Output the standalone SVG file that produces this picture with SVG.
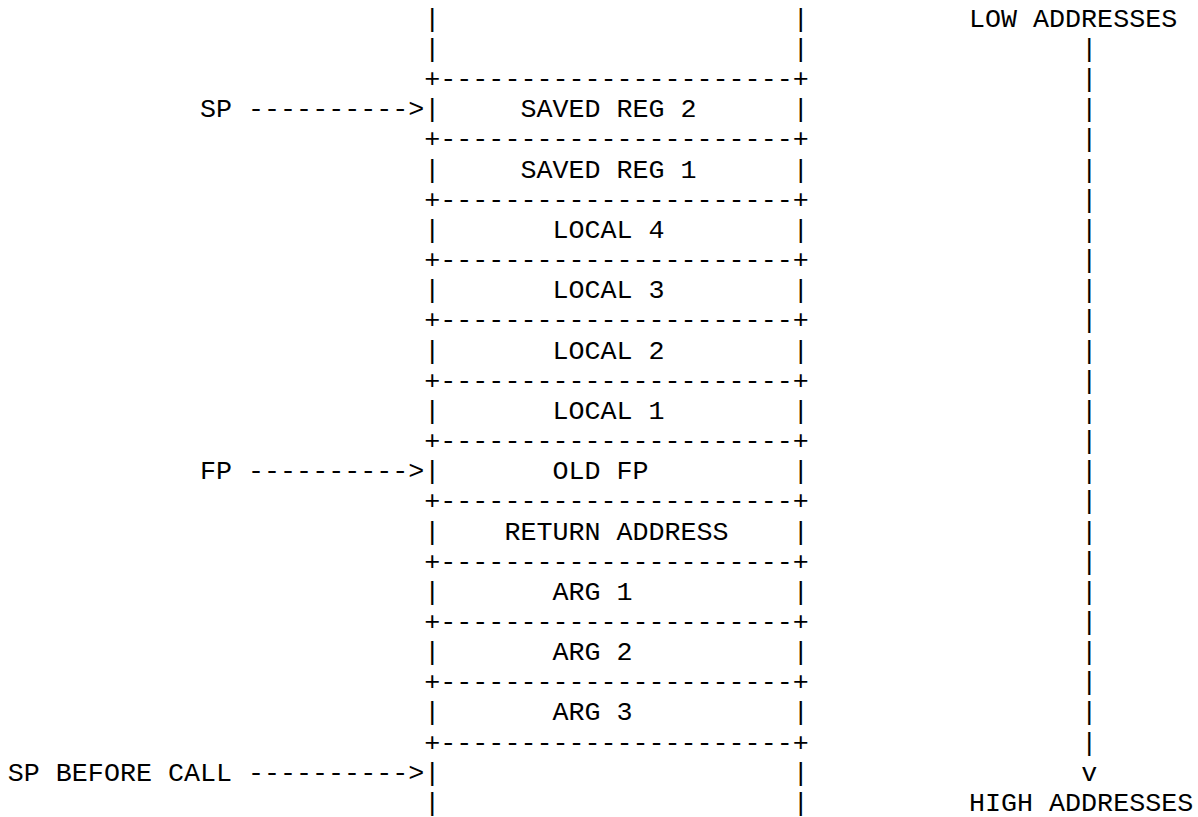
<svg xmlns="http://www.w3.org/2000/svg" width="1198" height="817" viewBox="0 0 1198 817">
<style>
text { font-family: "Liberation Mono", "Courier New", monospace; font-size: 26.7px; fill: #000000; white-space: pre; }
</style>
<rect width="1198" height="817" fill="#ffffff"/>
<g id="stack-edges">
<text x="424.32" y="26.8">|</text><text x="792.78" y="26.8">|</text>
<text x="424.32" y="56.96">|</text><text x="792.78" y="56.96">|</text>
<text x="424.32" y="780.8">|</text><text x="792.78" y="780.8">|</text>
<text x="424.32" y="810.96">|</text><text x="792.78" y="810.96">|</text>
</g>
<g id="separators">
<text x="424.32" y="87.12">+----------------------+</text>
<text x="424.32" y="147.44">+----------------------+</text>
<text x="424.32" y="207.76">+----------------------+</text>
<text x="424.32" y="268.08">+----------------------+</text>
<text x="424.32" y="328.4">+----------------------+</text>
<text x="424.32" y="388.72">+----------------------+</text>
<text x="424.32" y="449.04">+----------------------+</text>
<text x="424.32" y="509.36">+----------------------+</text>
<text x="424.32" y="569.68">+----------------------+</text>
<text x="424.32" y="630">+----------------------+</text>
<text x="424.32" y="690.32">+----------------------+</text>
<text x="424.32" y="750.64">+----------------------+</text>
</g>
<g id="slot-saved-reg-2"><text x="424.32" y="117.28">|</text><text x="520.44" y="117.28">SAVED REG 2</text><text x="792.78" y="117.28">|</text></g>
<g id="slot-saved-reg-1"><text x="424.32" y="177.6">|</text><text x="520.44" y="177.6">SAVED REG 1</text><text x="792.78" y="177.6">|</text></g>
<g id="slot-local-4"><text x="424.32" y="237.92">|</text><text x="552.48" y="237.92">LOCAL 4</text><text x="792.78" y="237.92">|</text></g>
<g id="slot-local-3"><text x="424.32" y="298.24">|</text><text x="552.48" y="298.24">LOCAL 3</text><text x="792.78" y="298.24">|</text></g>
<g id="slot-local-2"><text x="424.32" y="358.56">|</text><text x="552.48" y="358.56">LOCAL 2</text><text x="792.78" y="358.56">|</text></g>
<g id="slot-local-1"><text x="424.32" y="418.88">|</text><text x="552.48" y="418.88">LOCAL 1</text><text x="792.78" y="418.88">|</text></g>
<g id="slot-old-fp"><text x="424.32" y="479.2">|</text><text x="552.48" y="479.2">OLD FP</text><text x="792.78" y="479.2">|</text></g>
<g id="slot-return-address"><text x="424.32" y="539.52">|</text><text x="504.42" y="539.52">RETURN ADDRESS</text><text x="792.78" y="539.52">|</text></g>
<g id="slot-arg-1"><text x="424.32" y="599.84">|</text><text x="552.48" y="599.84">ARG 1</text><text x="792.78" y="599.84">|</text></g>
<g id="slot-arg-2"><text x="424.32" y="660.16">|</text><text x="552.48" y="660.16">ARG 2</text><text x="792.78" y="660.16">|</text></g>
<g id="slot-arg-3"><text x="424.32" y="720.48">|</text><text x="552.48" y="720.48">ARG 3</text><text x="792.78" y="720.48">|</text></g>
<g id="connectors" xml:space="preserve">
<text x="200.04" y="117.28">SP ----------&gt;</text>
<text x="200.04" y="479.2">FP ----------&gt;</text>
<text x="7.8" y="780.8">SP BEFORE CALL ----------&gt;</text>
</g>
<g id="address-axis">
<text x="969" y="26.8">LOW ADDRESSES</text>
<text x="1081.14" y="56.96">|</text>
<text x="1081.14" y="87.12">|</text>
<text x="1081.14" y="117.28">|</text>
<text x="1081.14" y="147.44">|</text>
<text x="1081.14" y="177.6">|</text>
<text x="1081.14" y="207.76">|</text>
<text x="1081.14" y="237.92">|</text>
<text x="1081.14" y="268.08">|</text>
<text x="1081.14" y="298.24">|</text>
<text x="1081.14" y="328.4">|</text>
<text x="1081.14" y="358.56">|</text>
<text x="1081.14" y="388.72">|</text>
<text x="1081.14" y="418.88">|</text>
<text x="1081.14" y="449.04">|</text>
<text x="1081.14" y="479.2">|</text>
<text x="1081.14" y="509.36">|</text>
<text x="1081.14" y="539.52">|</text>
<text x="1081.14" y="569.68">|</text>
<text x="1081.14" y="599.84">|</text>
<text x="1081.14" y="630">|</text>
<text x="1081.14" y="660.16">|</text>
<text x="1081.14" y="690.32">|</text>
<text x="1081.14" y="720.48">|</text>
<text x="1081.14" y="750.64">|</text>
<text x="1081.14" y="780.8">v</text>
<text x="969" y="810.96">HIGH ADDRESSES</text>
</g>
</svg>
